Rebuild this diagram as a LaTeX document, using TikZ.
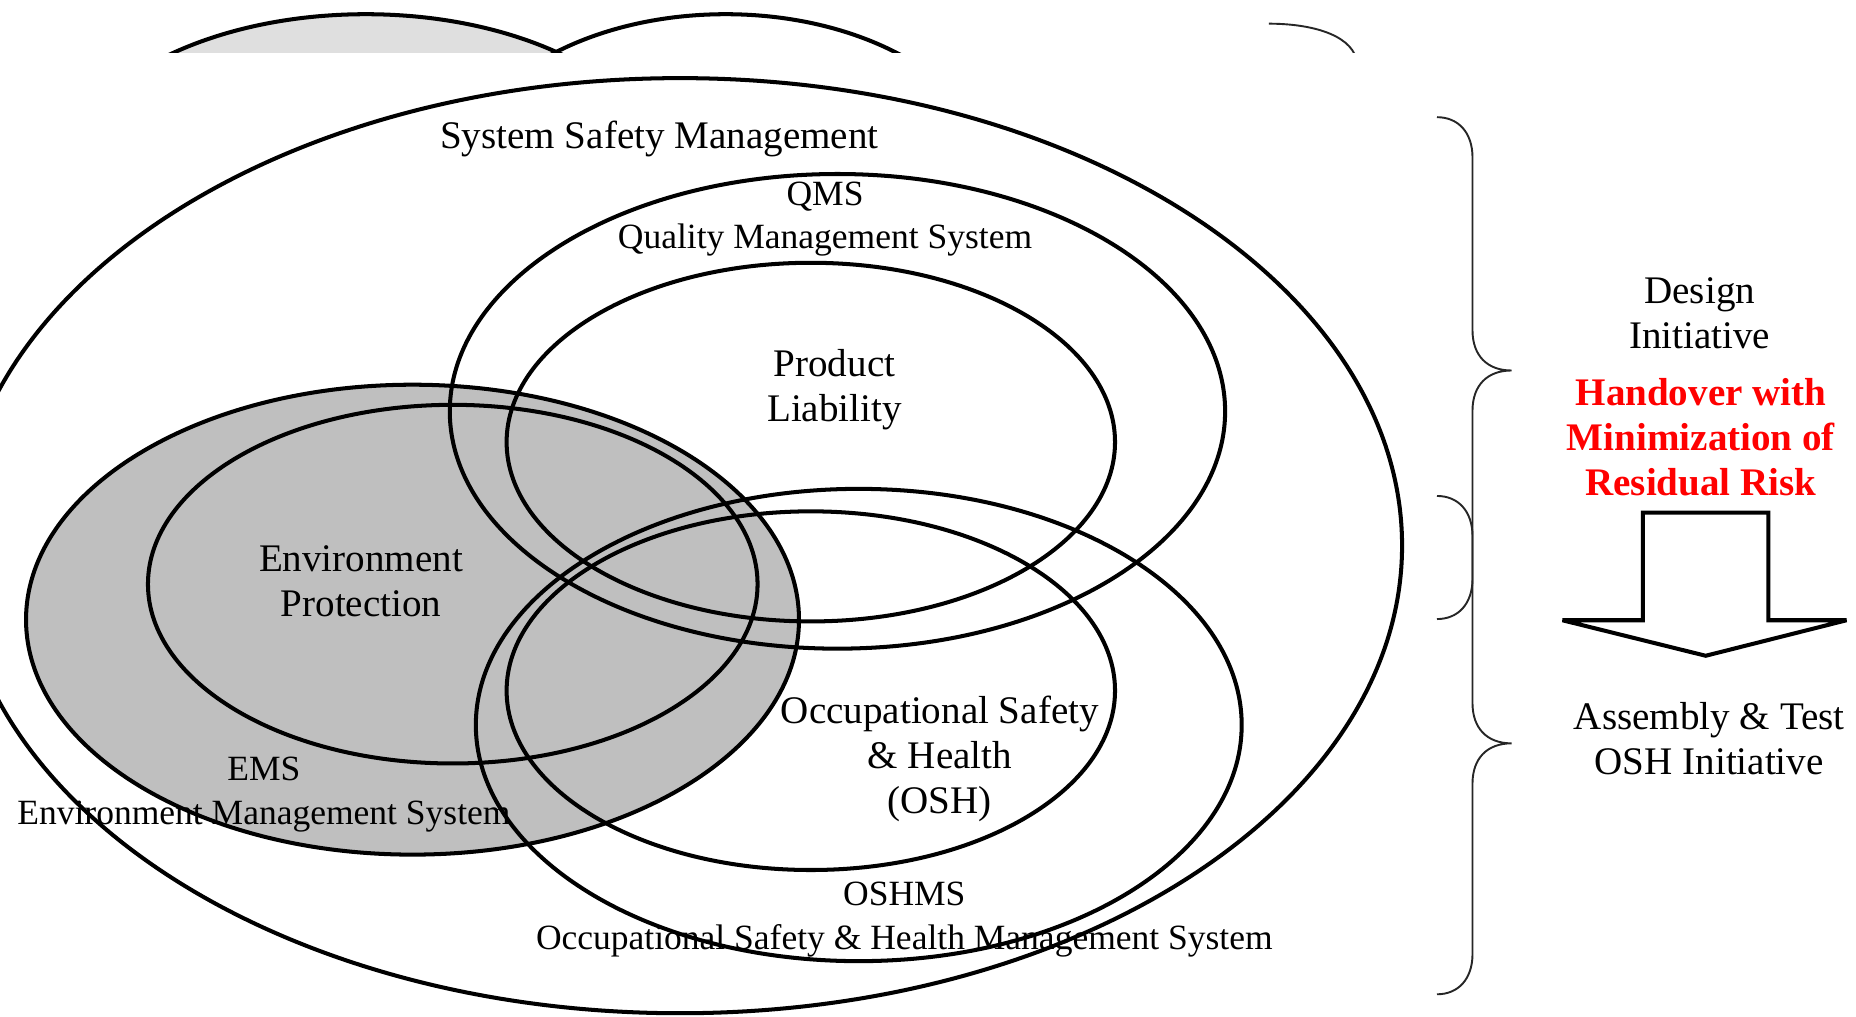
\documentclass[tikz,border=0pt]{standalone}
\usepackage{fontspec}
\setmainfont{Liberation Serif}
\begin{document}
\begin{tikzpicture}[x=1pt,y=-1pt,
  ring/.style={line width=3.4pt,draw=black},
  bracepath/.style={line width=1.6pt,draw=black!85},
  big/.style={font=\fontsize{33}{38}\selectfont,align=center,inner sep=0pt},
  small/.style={font=\fontsize{30}{37}\selectfont,align=center,inner sep=0pt},
  hot/.style={text=red,font=\fontsize{33}{38}\selectfont\bfseries}]
\useasboundingbox (0,0) rectangle (1568,859);
\fill[white] (0,0) rectangle (1568,859);
% partial shapes cut off at the top
\begin{scope}
  \clip (0,0) rectangle (1568,44);
  \filldraw[ring,fill=gray!25] (309,162) ellipse [x radius=261, y radius=150];
  \draw[ring] (613,162) ellipse [x radius=232, y radius=150];
  \draw[bracepath] (1072,20) .. controls (1105,20) and (1140,28) .. (1146,50);
\end{scope}
\begin{scope}
  \clip (0,0) rectangle (1568,859);
  \fill[gray!50] (348.5,523.5) ellipse [x radius=326.5, y radius=198.5];
  % labels
  \node[big] (ssm) at (557,117) {System Safety Management};
  \node[small] (qms) at (697,185) {QMS\\Quality Management System};
  \node[big] (pl) at (705,329) {Product\\Liability};
  \node[big] (ep) at (305,491) {Environment\\Protection};
  \node[small] (ems) at (223,671) {EMS\\Environment Management System};
  \node[big] (osh) at (794,641) {Occupational Safety\\\& Health\\(OSH)};
  \node[small] (oshms) at (764,777) {OSHMS\\Occupational Safety \& Health Management System};
  % ellipses
  \draw[ring] (574.5,461) ellipse [x radius=610, y radius=395];
  \draw[ring] (348.5,523.5) ellipse [x radius=326.5, y radius=198.5];
  \draw[ring] (382.5,493.5) ellipse [x radius=257.5, y radius=151.5];
  \draw[ring] (707.5,347.5) ellipse [x radius=327.5, y radius=200.5];
  \draw[ring] (685,373.5) ellipse [x radius=257, y radius=151.5];
  \draw[ring] (725.5,612.5) ellipse [x radius=323.5, y radius=199.5];
  \draw[ring] (685,583.5) ellipse [x radius=257, y radius=151.5];
\end{scope}
% braces
\draw[bracepath] (1214,99) .. controls (1232,99) and (1244,112) .. (1244,133)
  -- (1244,279) .. controls (1244,300) and (1256,313) .. (1277,313)
  .. controls (1256,313) and (1244,326) .. (1244,347)
  -- (1244,489) .. controls (1244,510) and (1232,523) .. (1214,523);
\draw[bracepath] (1214,419) .. controls (1232,419) and (1244,432) .. (1244,453)
  -- (1244,594) .. controls (1244,615) and (1256,628) .. (1277,628)
  .. controls (1256,628) and (1244,641) .. (1244,662)
  -- (1244,806) .. controls (1244,827) and (1232,840) .. (1214,840);
% right-hand texts
\node[big] (di) at (1436,265) {Design\\Initiative};
\node[big,hot] (ho) at (1437,369) {Handover with\\Minimization of\\Residual Risk};
\node[big] (at) at (1444,624) {Assembly \& Test\\OSH Initiative};
% block arrow
\draw[line width=3.4pt,line join=miter,miter limit=2] (1388,433) -- (1494,433) -- (1494,524)
  -- (1560,524) -- (1441,554) -- (1320,524) -- (1388,524) -- cycle;
\end{tikzpicture}
\end{document}
